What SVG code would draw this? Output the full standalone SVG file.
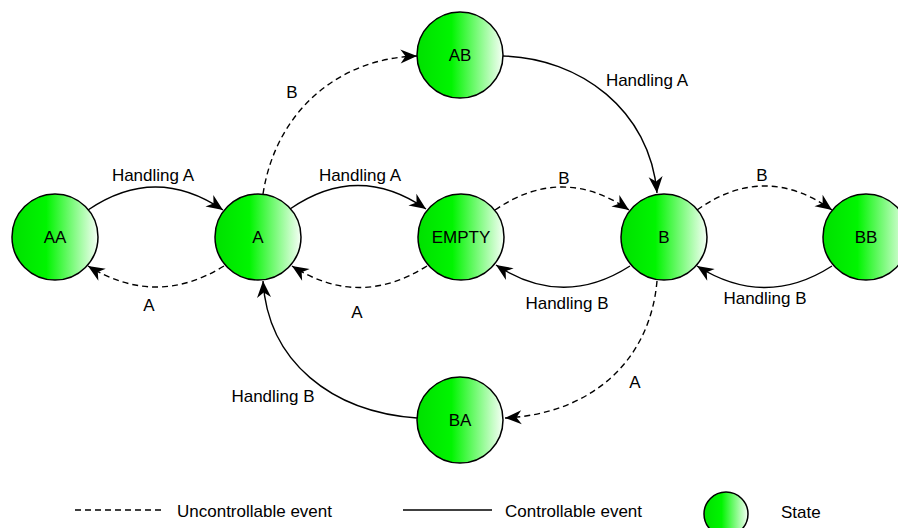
<svg xmlns="http://www.w3.org/2000/svg" width="898" height="528" viewBox="0 0 898 528">
  <defs>
    <linearGradient id="stateFill" x1="0" y1="0" x2="1" y2="0">
      <stop offset="0" stop-color="#00e000"/>
      <stop offset="0.4" stop-color="#00f500"/>
      <stop offset="1" stop-color="#f6fff6"/>
    </linearGradient>
    <marker id="arrow" markerUnits="userSpaceOnUse" markerWidth="18" markerHeight="16" viewBox="-17 -8 18 16" refX="0" refY="0" orient="auto">
      <path d="M0,0 L-16.5,-7 L-11.5,0 L-16.5,7 Z" fill="#000" stroke="none"/>
    </marker>
    <style>
      .state { fill: url(#stateFill); stroke: #000; stroke-width: 1.5; }
      .edge { fill: none; stroke: #000; stroke-width: 1.4; }
      .unctrl { stroke-dasharray: 6 4; }
      .arr { marker-end: url(#arrow); }
      text { font-family: "Liberation Sans", Arial, sans-serif; font-size: 17px; fill: #000; }
      .mid { text-anchor: middle; }
    </style>
  </defs>

  <rect width="898" height="528" fill="#fff"/>

  <!-- transitions -->
  <g id="connectors">
    <!-- AA <-> A -->
    <path class="edge arr" d="M88,210 Q155.5,164 223,210"/>
    <path class="edge unctrl arr" d="M224,266 Q156,308 88,266"/>
    <!-- A <-> EMPTY -->
    <path class="edge arr" d="M290,209 Q358,162 426,209"/>
    <path class="edge unctrl arr" d="M427,266 Q359,309 292,266"/>
    <!-- EMPTY <-> B -->
    <path class="edge unctrl arr" d="M495,210 Q562,164 629,210"/>
    <path class="edge arr" d="M630,266 Q563,309 496,265"/>
    <!-- B <-> BB -->
    <path class="edge unctrl arr" d="M697,210 Q764.5,162 832,210"/>
    <path class="edge arr" d="M832,266 Q765,309 697,266"/>
    <!-- A -> AB -> B -->
    <path class="edge unctrl arr" d="M263,194 C276,110 340,58 417,56"/>
    <path class="edge arr" d="M503,56 C580,58 650,110 657,193"/>
    <!-- B -> BA -> A -->
    <path class="edge unctrl arr" d="M657,281 C650,362 590,414 505,418"/>
    <path class="edge arr" d="M417,418 C332,412 268,362 263,281"/>
  </g>

  <!-- transition labels -->
  <g id="edge-labels" class="mid">
    <text x="153" y="181">Handling A</text>
    <text x="149" y="311">A</text>
    <text x="360" y="181">Handling A</text>
    <text x="357" y="318">A</text>
    <text x="564" y="184">B</text>
    <text x="567" y="309">Handling B</text>
    <text x="762" y="181">B</text>
    <text x="765" y="304">Handling B</text>
    <text x="292" y="98">B</text>
    <text x="647" y="86">Handling A</text>
    <text x="635" y="388">A</text>
    <text x="273" y="402">Handling B</text>
  </g>

  <!-- states -->
  <g id="AA">
    <circle class="state" cx="55" cy="237" r="43"/>
    <text class="mid" x="55" y="243">AA</text>
  </g>
  <g id="A">
    <circle class="state" cx="258" cy="237" r="43"/>
    <text class="mid" x="258" y="243">A</text>
  </g>
  <g id="EMPTY">
    <circle class="state" cx="461" cy="237" r="43"/>
    <text class="mid" x="461" y="243">EMPTY</text>
  </g>
  <g id="B">
    <circle class="state" cx="664" cy="237" r="43"/>
    <text class="mid" x="664" y="243">B</text>
  </g>
  <g id="BB">
    <circle class="state" cx="866" cy="237" r="43"/>
    <text class="mid" x="866" y="243">BB</text>
  </g>
  <g id="AB">
    <circle class="state" cx="460" cy="55" r="43"/>
    <text class="mid" x="460" y="61">AB</text>
  </g>
  <g id="BA">
    <circle class="state" cx="460" cy="420" r="43"/>
    <text class="mid" x="460" y="426">BA</text>
  </g>

  <!-- legend -->
  <g id="legend">
    <line class="edge unctrl" x1="75" y1="510" x2="163" y2="510"/>
    <text x="177" y="517">Uncontrollable event</text>
    <line class="edge" x1="403" y1="510" x2="492" y2="510"/>
    <text x="505" y="517">Controllable event</text>
    <circle class="state" cx="726" cy="514" r="22"/>
    <text x="781" y="518">State</text>
  </g>
</svg>
